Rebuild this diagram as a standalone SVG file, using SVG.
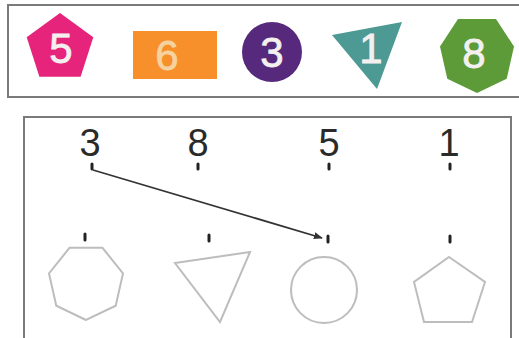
<svg xmlns="http://www.w3.org/2000/svg" width="519" height="338" viewBox="0 0 519 338">
<style>
.box{fill:#fff;stroke:#7a7a7a;stroke-width:2}
.t{font-family:"Liberation Sans",Arial,sans-serif;text-anchor:middle}
.tw{fill:#f4f0f0;stroke:#f4f0f0;stroke-width:0.8;font-size:42px}
.num{fill:#2a2a2a;font-size:38px}
.tick{stroke:#222;stroke-width:3;stroke-linecap:round}
.ol{fill:none;stroke:#bdbdbd;stroke-width:2}
.arr{stroke:#333;stroke-width:1.8;fill:none}
</style>
<defs>
<marker id="ah" viewBox="0 0 10 10" refX="9" refY="5" markerWidth="9" markerHeight="7" markerUnits="userSpaceOnUse" orient="auto" preserveAspectRatio="none">
<path d="M0,0 L10,5 L0,10 Z" fill="#333"/>
</marker>
</defs>
<rect class="box" x="8" y="5" width="514" height="92"/>
<rect class="box" x="24" y="117" width="487" height="225"/>
<g id="top-pentagon-5">
<polygon points="60,13 93.3,37.2 80.6,76.8 39.4,76.8 26.7,37.2" fill="#e6247b"/>
<text class="t tw" x="61" y="63">5</text>
</g>
<g id="top-rect-6">
<rect x="133" y="31" width="84" height="48" fill="#f78f2b"/>
<text class="t tw" x="167" y="70" style="fill:#f6d29e;stroke:#f6d29e">6</text>
</g>
<g id="top-circle-3">
<circle cx="272" cy="52" r="30" fill="#56297d"/>
<text class="t tw" x="272" y="67">3</text>
</g>
<g id="top-triangle-1">
<polygon points="332,35 402,22 377,89" fill="#4d9993"/>
<text class="t tw" x="371" y="63">1</text>
</g>
<g id="top-heptagon-8">
<polygon points="477,93 447.3,78.7 440,46.5 458,19 496,19 514,46.5 506.7,78.7" fill="#5d9a38"/>
<text class="t tw" x="474" y="68">8</text>
</g>
<g id="label-3">
<text class="t num" x="90" y="156">3</text>
<line class="tick" x1="92" y1="164" x2="92" y2="169"/>
</g>
<g id="label-8">
<text class="t num" x="198" y="156">8</text>
<line class="tick" x1="198" y1="164" x2="198" y2="169"/>
</g>
<g id="label-5">
<text class="t num" x="329" y="156">5</text>
<line class="tick" x1="329" y1="164" x2="329" y2="169"/>
</g>
<g id="label-1">
<text class="t num" x="449" y="156">1</text>
<line class="tick" x1="450" y1="164" x2="450" y2="169"/>
</g>
<g id="shape-heptagon">
<line class="tick" x1="85" y1="234" x2="85" y2="240"/>
<polygon class="ol" points="86,320 56.3,305.7 49,273.5 69.5,247.8 102.5,247.8 123,273.5 115.7,305.7"/>
</g>
<g id="shape-triangle">
<line class="tick" x1="209" y1="235" x2="209" y2="241"/>
<polygon class="ol" points="175,263 250,252 220,322"/>
</g>
<g id="shape-circle">
<line class="tick" x1="328" y1="236" x2="328" y2="242"/>
<circle class="ol" cx="324" cy="290" r="33"/>
</g>
<g id="shape-pentagon">
<line class="tick" x1="450" y1="236" x2="450" y2="242"/>
<polygon class="ol" points="449,257 485,282 472,322 424,322 414,282"/>
</g>
<g id="connectors">
<line class="arr" x1="93" y1="170" x2="322" y2="238" marker-end="url(#ah)"/>
</g>
</svg>
